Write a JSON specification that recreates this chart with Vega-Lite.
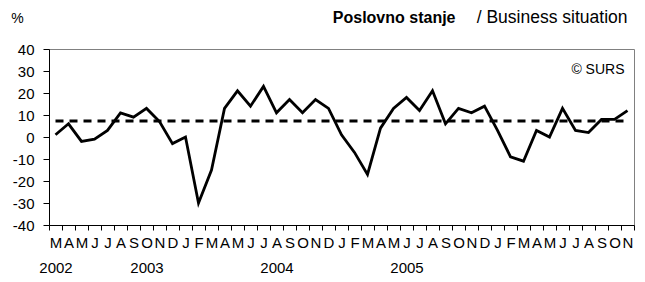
{
  "$schema": "https://vega.github.io/schema/vega-lite/v6.json",
  "width": 585,
  "height": 176,
  "autosize": {"type": "none"},
  "padding": {"left": 49, "top": 49, "right": 11, "bottom": 57},
  "background": "white",
  "config": {
    "font": "Liberation Sans",
    "view": {"stroke": "#808080", "strokeWidth": 1}
  },
  "title": {
    "text": "/ Business situation",
    "anchor": "end",
    "fontSize": 17.5,
    "fontWeight": "normal",
    "color": "black",
    "dx": -7,
    "dy": 17,
    "offset": 0
  },
  "data": {
    "values": [
      {"m": "2002-03", "v": 1, "avg": 7.3},
      {"m": "2002-04", "v": 6, "avg": 7.3},
      {"m": "2002-05", "v": -2, "avg": 7.3},
      {"m": "2002-06", "v": -1, "avg": 7.3},
      {"m": "2002-07", "v": 3, "avg": 7.3},
      {"m": "2002-08", "v": 11, "avg": 7.3},
      {"m": "2002-09", "v": 9, "avg": 7.3},
      {"m": "2002-10", "v": 13, "avg": 7.3},
      {"m": "2002-11", "v": 7, "avg": 7.3},
      {"m": "2002-12", "v": -3, "avg": 7.3},
      {"m": "2003-01", "v": 0, "avg": 7.3},
      {"m": "2003-02", "v": -30, "avg": 7.3},
      {"m": "2003-03", "v": -15, "avg": 7.3},
      {"m": "2003-04", "v": 13, "avg": 7.3},
      {"m": "2003-05", "v": 21, "avg": 7.3},
      {"m": "2003-06", "v": 14, "avg": 7.3},
      {"m": "2003-07", "v": 23, "avg": 7.3},
      {"m": "2003-08", "v": 11, "avg": 7.3},
      {"m": "2003-09", "v": 17, "avg": 7.3},
      {"m": "2003-10", "v": 11, "avg": 7.3},
      {"m": "2003-11", "v": 17, "avg": 7.3},
      {"m": "2003-12", "v": 13, "avg": 7.3},
      {"m": "2004-01", "v": 1, "avg": 7.3},
      {"m": "2004-02", "v": -7, "avg": 7.3},
      {"m": "2004-03", "v": -17, "avg": 7.3},
      {"m": "2004-04", "v": 4, "avg": 7.3},
      {"m": "2004-05", "v": 13, "avg": 7.3},
      {"m": "2004-06", "v": 18, "avg": 7.3},
      {"m": "2004-07", "v": 12, "avg": 7.3},
      {"m": "2004-08", "v": 21, "avg": 7.3},
      {"m": "2004-09", "v": 6, "avg": 7.3},
      {"m": "2004-10", "v": 13, "avg": 7.3},
      {"m": "2004-11", "v": 11, "avg": 7.3},
      {"m": "2004-12", "v": 14, "avg": 7.3},
      {"m": "2005-01", "v": 3, "avg": 7.3},
      {"m": "2005-02", "v": -9, "avg": 7.3},
      {"m": "2005-03", "v": -11, "avg": 7.3},
      {"m": "2005-04", "v": 3, "avg": 7.3},
      {"m": "2005-05", "v": 0, "avg": 7.3},
      {"m": "2005-06", "v": 13, "avg": 7.3},
      {"m": "2005-07", "v": 3, "avg": 7.3},
      {"m": "2005-08", "v": 2, "avg": 7.3},
      {"m": "2005-09", "v": 8, "avg": 7.3},
      {"m": "2005-10", "v": 8, "avg": 7.3},
      {"m": "2005-11", "v": 12, "avg": 7.3}
    ]
  },
  "encoding": {
    "x": {
      "field": "m",
      "type": "ordinal",
      "sort": null,
      "scale": {"type": "band", "paddingInner": 0, "paddingOuter": 0},
      "axis": {
        "title": "Poslovno stanje",
        "titleFontSize": 16,
        "titleFontWeight": "bold",
        "titleColor": "black",
        "titleAlign": "right",
        "titleBaseline": "alphabetic",
        "titleX": 406,
        "titleY": -203,
        "tickBand": "extent",
        "tickSize": 5,
        "tickColor": "black",
        "domainColor": "black",
        "labelAngle": 0,
        "labelFontSize": 15,
        "labelColor": "black",
        "labelPadding": 5,
        "labelOverlap": false,
        "labelBound": false,
        "labelFlush": false,
        "labelLineHeight": 25,
        "labelBaseline": "top",
        "labelExpr": "!isString(datum.value) ? '' : ({'2002-03':['M','2002'],'2002-10':['O','2003'],'2003-08':['A','2004'],'2004-06':['J','2005']}[datum.value] || ['J','F','M','A','M','J','J','A','S','O','N','D'][toNumber(slice(datum.value,5))-1])"
      }
    },
    "y": {
      "field": "v",
      "type": "quantitative",
      "scale": {"domain": [-40, 40], "nice": false, "zero": false},
      "axis": {
        "values": [-40, -30, -20, -10, 0, 10, 20, 30, 40],
        "grid": false,
        "tickSize": 6,
        "tickColor": "black",
        "domainColor": "black",
        "labelFontSize": 15,
        "labelColor": "black",
        "labelPadding": 9,
        "labelOverlap": false,
        "labelExpr": "datum.value < 0 ? '-' + toString(abs(datum.value)) : toString(datum.value)",
        "title": "%",
        "titleAngle": 0,
        "titleFontSize": 14,
        "titleFontWeight": "normal",
        "titleColor": "black",
        "titleAlign": "center",
        "titleBaseline": "middle",
        "titleX": -32,
        "titleY": -31
      }
    }
  },
  "layer": [
    {
      "mark": {"type": "line", "color": "black", "strokeWidth": 2.8}
    },
    {
      "mark": {"type": "line", "color": "black", "strokeWidth": 3, "strokeDash": [8, 6]},
      "encoding": {
        "y": {"field": "avg", "type": "quantitative"}
      }
    },
    {
      "transform": [{"filter": "datum.m == '2005-11'"}],
      "mark": {"type": "text", "align": "right", "baseline": "middle", "fontSize": 14, "color": "black", "dx": -3, "dy": -41},
      "encoding": {
        "text": {"value": "© SURS"}
      }
    }
  ]
}
